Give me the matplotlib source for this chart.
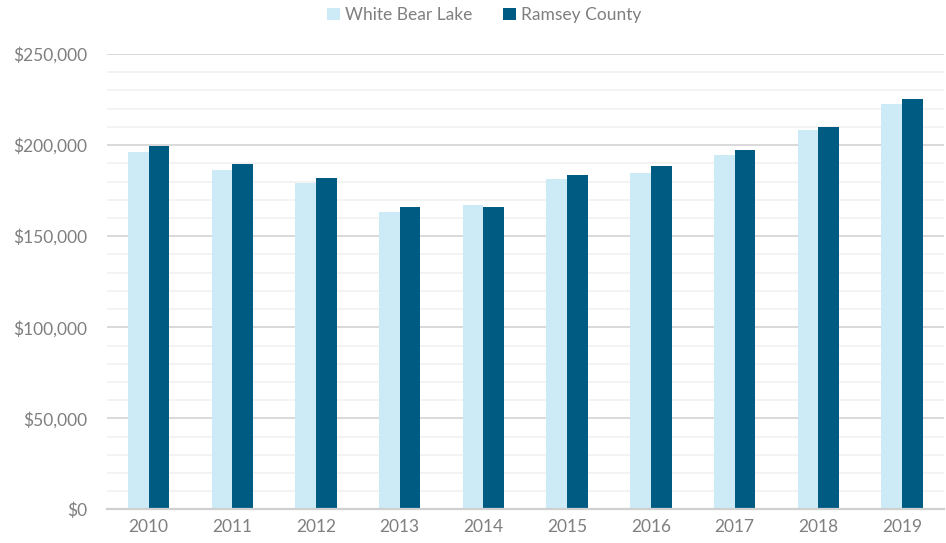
import matplotlib
matplotlib.use("Agg")
import matplotlib.pyplot as plt
import numpy as np
from matplotlib.ticker import FuncFormatter, MultipleLocator
from matplotlib.patches import Patch

plt.rcParams['font.family'] = ['Lato', 'DejaVu Sans']

years = ["2010", "2011", "2012", "2013", "2014", "2015", "2016", "2017", "2018", "2019"]
white_bear_lake = [196200, 186300, 179200, 163500, 167100, 181200, 184700, 194500, 208200, 222500]
ramsey_county = [199600, 189600, 181900, 165800, 165800, 183600, 188700, 197300, 209900, 225200]
series_names = ["White Bear Lake", "Ramsey County"]
colors = ["#cdebf6", "#005b82"]
text_color = "#7f7f7f"

fig = plt.figure(figsize=(9.46, 5.43), dpi=100)
ax = fig.add_axes([0.1128, 0.0617, 0.885, 0.8389])

x = np.arange(len(years))
w = 0.248
ax.bar(x - w / 2, white_bear_lake, width=w, color=colors[0], zorder=3)
ax.bar(x + w / 2, ramsey_county, width=w, color=colors[1], zorder=3)

ax.set_xlim(-0.5, len(years) - 0.5)
ax.set_ylim(0, 250000)
ax.yaxis.set_major_locator(MultipleLocator(50000))
ax.yaxis.set_minor_locator(MultipleLocator(10000))
ax.yaxis.set_major_formatter(FuncFormatter(lambda v, p: f"${v:,.0f}"))
ax.grid(axis='y', which='minor', color='#f3f3f3', linewidth=1.4, zorder=0)
ax.grid(axis='y', which='major', color='#d9d9d9', linewidth=1.4, zorder=1)
ax.set_xticks(x)
ax.set_xticklabels(years)

for s in ['top', 'right', 'left']:
    ax.spines[s].set_visible(False)
ax.spines['bottom'].set_color('#d0d0d0')
ax.spines['bottom'].set_linewidth(1.6)
ax.spines['bottom'].set_zorder(4)

ax.tick_params(axis='both', which='both', length=0, colors=text_color, labelsize=12.5)
ax.tick_params(axis='y', pad=14)
ax.tick_params(axis='x', pad=7)

handles = [Patch(facecolor=c, label=n) for c, n in zip(colors, series_names)]
fig.legend(handles=handles, loc='center', bbox_to_anchor=(0.512, 0.972), ncol=2,
           frameon=False, fontsize=12.5, labelcolor=text_color,
           handlelength=0.7, handleheight=0.7, handletextpad=0.3, columnspacing=1.8)

fig.savefig("out.png", dpi=100)
